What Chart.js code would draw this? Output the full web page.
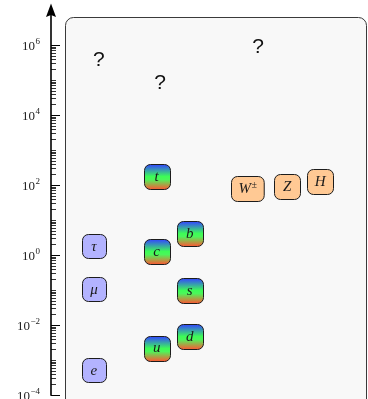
<!DOCTYPE html>
<html>
<head>
<meta charset="utf-8">
<script src="https://cdn.jsdelivr.net/npm/chart.js@4"></script>
<style>
  html, body { margin: 0; padding: 0; background: #ffffff; }
  #wrap { width: 368px; height: 399px; position: relative; }
</style>
</head>
<body>
<div id="wrap"><canvas id="chart"></canvas></div>
<script>
// Masses in GeV, one small array per family
const leptonNames = ['e', 'μ', 'τ'];
const leptonMasses = [0.000511, 0.1057, 1.777];

const upQuarkNames = ['u', 'c', 't'];
const upQuarkMasses = [0.0022, 1.27, 173];

const downQuarkNames = ['d', 's', 'b'];
const downQuarkMasses = [0.0047, 0.095, 4.18];

const bosonNames = ['W±', 'Z', 'H'];
const bosonMasses = [80.4, 91.2, 125];

const unknownNames = ['?', '?', '?'];
const unknownMasses = [3.7e5, 8.2e4, 8.9e5];

// Horizontal placement of each column (arbitrary units)
const leptonColumn = [1.3, 1.3, 1.3];
const upQuarkColumn = [3.2, 3.2, 3.2];
const downQuarkColumn = [4.2, 4.2, 4.2];
const bosonColumn = [5.95, 7.15, 8.15];
const unknownColumn = [1.45, 3.3, 6.27];

// Labelled decades on the mass axis
const tickExponents = [-4, -2, 0, 2, 4, 6];
const minorDecades = [-4, -3, -2, -1, 0, 1, 2, 3, 4, 5];

function points(cols, masses) {
  return masses.map((m, i) => ({ x: cols[i], y: m }));
}

function roundRect(ctx, x, y, w, h, r) {
  ctx.beginPath();
  ctx.moveTo(x + r, y);
  ctx.lineTo(x + w - r, y);
  ctx.arcTo(x + w, y, x + w, y + r, r);
  ctx.lineTo(x + w, y + h - r);
  ctx.arcTo(x + w, y + h, x + w - r, y + h, r);
  ctx.lineTo(x + r, y + h);
  ctx.arcTo(x, y + h, x, y + h - r, r);
  ctx.lineTo(x, y + r);
  ctx.arcTo(x, y, x + r, y, r);
  ctx.closePath();
}

const SERIF = '"Liberation Serif", "DejaVu Serif", serif';
const LABEL_FONT = 'italic 15px ' + SERIF;

function drawLabel(ctx, text, cx, cy) {
  ctx.fillStyle = '#1a1a1a';
  ctx.textBaseline = 'middle';
  if (text.endsWith('±')) {
    const base = text.slice(0, -1);
    ctx.font = LABEL_FONT;
    const wb = ctx.measureText(base).width;
    ctx.font = '10px ' + SERIF;
    const ws = ctx.measureText('±').width;
    const x0 = cx - (wb + ws) / 2;
    ctx.font = LABEL_FONT;
    ctx.textAlign = 'left';
    ctx.fillText(base, x0, cy + 1);
    ctx.font = '10px ' + SERIF;
    ctx.fillText('±', x0 + wb + 0.5, cy - 3);
  } else {
    ctx.font = LABEL_FONT;
    ctx.textAlign = 'center';
    ctx.fillText(text, cx, cy + 0.5);
  }
}

const particlePlugin = {
  id: 'particles',
  beforeDraw(chart) {
    const ctx = chart.ctx;
    ctx.save();
    // rounded backdrop panel
    roundRect(ctx, 65.5, 17.5, 301, 420, 8);
    ctx.fillStyle = '#f8f8f8';
    ctx.fill();
    ctx.strokeStyle = '#3a3a3a';
    ctx.lineWidth = 1;
    ctx.stroke();
    ctx.restore();
  },
  afterDatasetsDraw(chart) {
    const ctx = chart.ctx;
    ctx.save();
    chart.data.datasets.forEach((ds, di) => {
      const meta = chart.getDatasetMeta(di);
      meta.data.forEach((pt, i) => {
        const name = ds.names[i];
        const cx = pt.x, cy = pt.y;
        if (ds.kind === 'unknown') {
          ctx.fillStyle = '#111';
          ctx.font = '21px "Liberation Sans", Arial, sans-serif';
          ctx.textAlign = 'center';
          ctx.textBaseline = 'middle';
          ctx.fillText(name, cx, cy);
          return;
        }
        ctx.font = LABEL_FONT;
        const tw = ctx.measureText(name).width;
        const w = Math.max(ds.kind === 'lepton' ? 24 : 26, tw + 12);
        const h = ds.kind === 'lepton' ? 24 : 25;
        const x = Math.round(cx - w / 2) + 0.5, y = Math.round(cy - h / 2) + 0.5;
        roundRect(ctx, x, y, w, h, 6);
        if (ds.kind === 'quark') {
          const g = ctx.createLinearGradient(0, y, 0, y + h);
          g.addColorStop(0, '#3346ff');
          g.addColorStop(0.48, '#3dfc56');
          g.addColorStop(0.6, '#4cf65a');
          g.addColorStop(1, '#ff5533');
          ctx.fillStyle = g;
        } else {
          ctx.fillStyle = ds.boxColor;
        }
        ctx.fill();
        ctx.strokeStyle = '#1c1c1c';
        ctx.lineWidth = 1;
        ctx.stroke();
        drawLabel(ctx, name, cx, cy);
      });
    });
    ctx.restore();
  },
  afterDraw(chart) {
    const ctx = chart.ctx;
    const ys = chart.scales.y;
    const ax = chart.chartArea.left;
    const bottom = ys.getPixelForValue(1e-4);
    ctx.save();
    ctx.strokeStyle = '#000';
    ctx.fillStyle = '#000';
    // axis line with arrow head
    ctx.lineWidth = 1.6;
    ctx.beginPath();
    ctx.moveTo(ax, bottom + 0.8);
    ctx.lineTo(ax, 14);
    ctx.stroke();
    ctx.beginPath();
    ctx.moveTo(ax, 3.5);
    ctx.lineTo(ax - 5, 17);
    ctx.lineTo(ax, 15);
    ctx.lineTo(ax + 5, 17);
    ctx.closePath();
    ctx.fill();
    // minor ticks
    ctx.lineWidth = 0.8;
    minorDecades.forEach(k => {
      for (let m = 2; m <= 10; m++) {
        const v = m * Math.pow(10, k);
        if (m === 10 && (k + 1) % 2 === 0) continue;
        const py = Math.round(ys.getPixelForValue(v)) + 0.5;
        ctx.beginPath();
        ctx.moveTo(ax, py);
        ctx.lineTo(ax + 5, py);
        ctx.stroke();
      }
    });
    // major ticks and labels
    tickExponents.forEach(e => {
      const py = Math.round(ys.getPixelForValue(Math.pow(10, e))) + 0.5;
      ctx.lineWidth = 1;
      ctx.beginPath();
      ctx.moveTo(ax, py);
      ctx.lineTo(ax + 9, py);
      ctx.stroke();
      const exp = e < 0 ? '−' + Math.abs(e) : String(e);
      ctx.font = '9px ' + SERIF;
      const we = ctx.measureText(exp).width;
      const right = 40;
      ctx.textAlign = 'right';
      ctx.textBaseline = 'alphabetic';
      ctx.fillStyle = '#222';
      ctx.fillText(exp, right, py - 2);
      ctx.font = '13px ' + SERIF;
      ctx.fillText('10', right - we - 0.5, py + 4.5);
    });
    ctx.restore();
  }
};

const chart = new Chart(document.getElementById('chart'), {
  type: 'scatter',
  data: {
    datasets: [
      { kind: 'lepton', names: leptonNames, boxColor: '#b3b3ff', data: points(leptonColumn, leptonMasses) },
      { kind: 'quark', names: upQuarkNames, data: points(upQuarkColumn, upQuarkMasses) },
      { kind: 'quark', names: downQuarkNames, data: points(downQuarkColumn, downQuarkMasses) },
      { kind: 'boson', names: bosonNames, boxColor: '#ffc994', data: points(bosonColumn, bosonMasses) },
      { kind: 'unknown', names: unknownNames, data: points(unknownColumn, unknownMasses) }
    ]
  },
  options: {
    responsive: true,
    maintainAspectRatio: false,
    animation: false,
    layout: { padding: { left: 51, right: 0, top: 10, bottom: 4 } },
    elements: { point: { radius: 0, hoverRadius: 0 } },
    plugins: { legend: { display: false }, tooltip: { enabled: false } },
    events: [],
    scales: {
      x: { type: 'linear', display: false, min: 0, max: 9.6 },
      y: { type: 'logarithmic', display: false, min: 1e-4, max: 1e7 }
    }
  },
  plugins: [particlePlugin]
});
</script>
</body>
</html>
